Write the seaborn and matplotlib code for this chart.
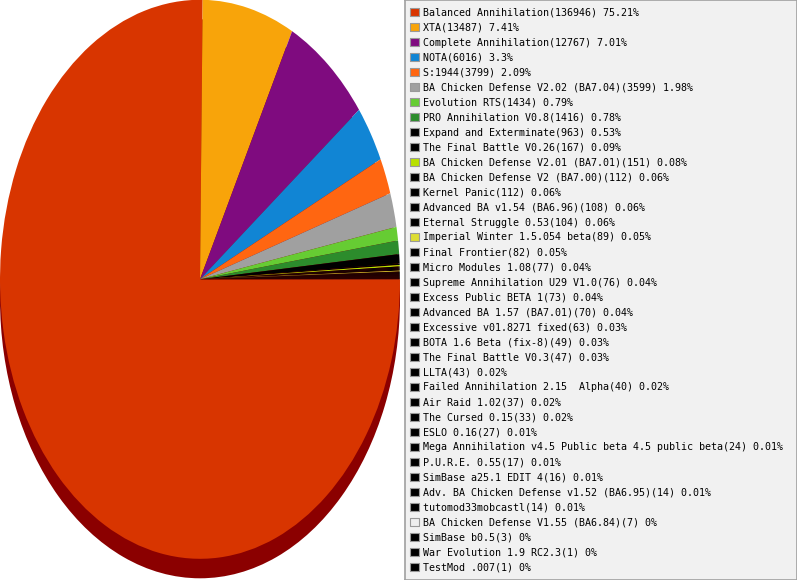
import matplotlib
matplotlib.use("Agg")
import matplotlib.pyplot as plt
import seaborn as sns

names = [
    "Balanced Annihilation", "XTA", "Complete Annihilation", "NOTA", "S:1944",
    "BA Chicken Defense V2.02 (BA7.04)", "Evolution RTS", "PRO Annihilation V0.8",
    "Expand and Exterminate", "The Final Battle V0.26",
    "BA Chicken Defense V2.01 (BA7.01)", "BA Chicken Defense V2 (BA7.00)",
    "Kernel Panic", "Advanced BA v1.54 (BA6.96)", "Eternal Struggle 0.53",
    "Imperial Winter 1.5.054 beta", "Final Frontier", "Micro Modules 1.08",
    "Supreme Annihilation U29 V1.0", "Excess Public BETA 1",
    "Advanced BA 1.57 (BA7.01)", "Excessive v01.8271 fixed", "BOTA 1.6 Beta (fix-8)",
    "The Final Battle V0.3", "LLTA", "Failed Annihilation 2.15  Alpha",
    "Air Raid 1.02", "The Cursed 0.15", "ESLO 0.16",
    "Mega Annihilation v4.5 Public beta 4.5 public beta", "P.U.R.E. 0.55",
    "SimBase a25.1 EDIT 4", "Adv. BA Chicken Defense v1.52 (BA6.95)",
    "tutomod33mobcastl", "BA Chicken Defense V1.55 (BA6.84)", "SimBase b0.5",
    "War Evolution 1.9 RC2.3", "TestMod .007",
]
counts = [
    136946, 13487, 12767, 6016, 3799, 3599, 1434, 1416, 963, 167,
    151, 112, 112, 108, 104, 89, 82, 77, 76, 73,
    70, 63, 49, 47, 43, 40, 37, 33, 27, 24,
    17, 16, 14, 14, 7, 3, 1, 1,
]
percents = [
    "75.21", "7.41", "7.01", "3.3", "2.09", "1.98", "0.79", "0.78", "0.53", "0.09",
    "0.08", "0.06", "0.06", "0.06", "0.06", "0.05", "0.05", "0.04", "0.04", "0.04",
    "0.04", "0.03", "0.03", "0.03", "0.02", "0.02", "0.02", "0.02", "0.01", "0.01",
    "0.01", "0.01", "0.01", "0.01", "0", "0", "0", "0",
]
colors = [
    "#d83500", "#f8a40a", "#7f0b7f", "#1185d4", "#ff6611", "#a0a0a0", "#66cc33",
    "#2c8c2c", "#000000", "#000000", "#b8e000", "#000000", "#000000", "#000000",
    "#000000", "#dddd33", "#000000", "#000000", "#000000", "#000000", "#000000",
    "#000000", "#000000", "#000000", "#000000", "#000000", "#000000", "#000000",
    "#000000", "#000000", "#000000", "#000000", "#000000", "#000000", "#eeeeee",
    "#000000", "#000000", "#000000",
]

sns.set_style("white")
plt.rcParams["font.family"] = ["DejaVu Sans Mono", "DejaVu Sans"]

W, H = 797, 580
fig = plt.figure(figsize=(W / 100, H / 100), dpi=100)
fig.patch.set_facecolor("white")

# ---- pie (elliptical, with dark side shadow) ----
pie_w = 405
ax = fig.add_axes([0, 0, pie_w / W, 1])
rx, ry = 200.0, 279.5
cx, cy_top = 200.0, 279.3
shadow = 19.5 / ry
ax.pie([1], colors=["#8b0000"], radius=1, center=(0, -shadow),
       startangle=0, wedgeprops=dict(linewidth=0))
ax.pie(counts, colors=colors, radius=1, center=(0, 0), startangle=0,
       counterclock=False, wedgeprops=dict(linewidth=0, antialiased=True))
ax.set_aspect("auto")
ax.set_xlim(-cx / rx, (pie_w - cx) / rx)
ax.set_ylim(-(H - cy_top) / ry, cy_top / ry)
ax.axis("off")

# ---- legend box ----
lx0 = 405
lax = fig.add_axes([lx0 / W, 0, (W - lx0) / W, 1])
lax.set_xlim(0, W - lx0)
lax.set_ylim(H, 0)
lax.set_facecolor("#f1f1f1")
for s in lax.spines.values():
    s.set_visible(True)
    s.set_color("#a0a0a0")
    s.set_linewidth(1.2)
lax.set_xticks([])
lax.set_yticks([])

rows = [12 + 15 * i for i in range(len(names))]
lax.scatter([9.5] * len(names), rows, marker="s", s=36, c=colors,
            edgecolors="#999999", linewidths=0.8, zorder=3)
for y, n, c, p in zip(rows, names, counts, percents):
    lax.text(17.5, y + 0.5, f"{n}({c}) {p}%", fontsize=7.2, va="center",
             ha="left", color="#000000", family=["DejaVu Sans Mono", "DejaVu Sans"])

fig.savefig("out.png", dpi=100)
